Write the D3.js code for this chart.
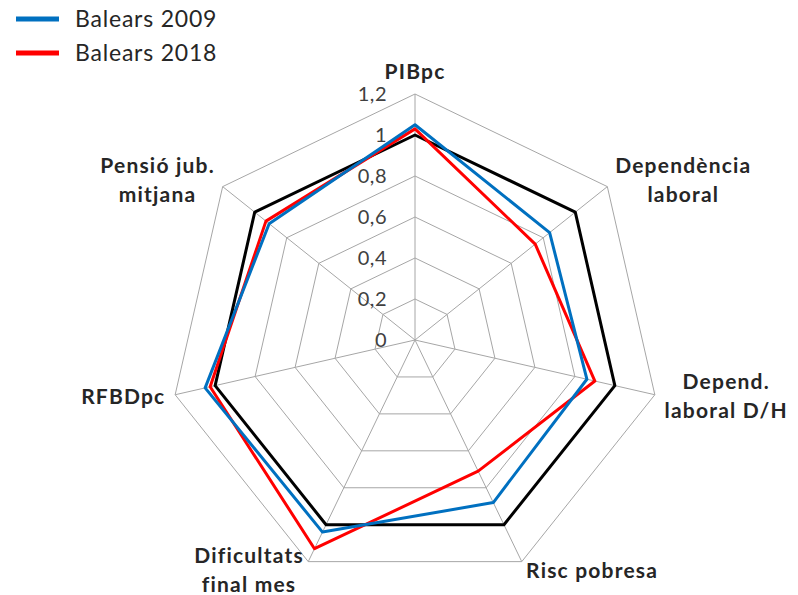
<!DOCTYPE html>
<html>
<head>
<meta charset="utf-8">
<script src="https://cdn.jsdelivr.net/npm/d3@7"></script>
<style>
    body { margin: 0; background: #fff; }
    svg { display: block; font-family: Lato, "Open Sans", sans-serif; }
    .grid { fill: none; stroke: #a6a6a6; stroke-width: 1; }
    .tick-label { font-size: 20px; fill: #404040; letter-spacing: 0.5px; }
    .cat-label { font-size: 21px; font-weight: bold; fill: #262626; letter-spacing: 1.2px; }
    .legend-text { font-size: 23px; fill: #262626; letter-spacing: 0.8px; }
</style>
</head>
<body>
<div id="chart"></div>
<script>
// axes, each label split into its lines
const categories = [
    ['PIBpc'],
    ['Dependència', 'laboral'],
    ['Depend.', 'laboral D/H'],
    ['Risc pobresa'],
    ['Dificultats', 'final mes'],
    ['RFBDpc'],
    ['Pensió jub.', 'mitjana']
];
const espanya = [1, 1, 1, 1, 1, 1, 1];
const balears2009 = [1.05, 0.84, 0.86, 0.88, 1.04, 1.05, 0.91];
const balears2018 = [1.03, 0.75, 0.90, 0.71, 1.13, 1.025, 0.93];
const tickValues = [0, 0.2, 0.4, 0.6, 0.8, 1, 1.2];

const series = [
    { name: null, values: espanya, color: '#000000' },
    { name: 'Balears 2018', values: balears2018, color: '#ff0000' },
    { name: 'Balears 2009', values: balears2009, color: '#0070c0' }
];
const legendItems = ['Balears 2009', 'Balears 2018'];

const width = 798, height = 595;
const cx = 415, cy = 340, radius = 246;

const svg = d3.select('#chart').append('svg')
    .attr('width', width)
    .attr('height', height);

const rScale = d3.scaleLinear()
    .domain([0, 1.2])
    .range([0, radius]);

const n = categories.length;
const angle = i => i * 2 * Math.PI / n;

const fmt = d3.formatLocale({ decimal: ',', thousands: '.', grouping: [3], currency: ['', '€'] }).format('.1~f');

const chart = svg.append('g')
    .attr('transform', `translate(${cx},${cy})`);

// rings
const ringLine = d3.lineRadial()
    .angle((d, i) => angle(i))
    .radius(d => rScale(d))
    .curve(d3.curveLinearClosed);

chart.selectAll('.ring')
    .data(tickValues.filter(t => t > 0))
    .join('path')
    .attr('class', 'grid ring')
    .attr('d', t => ringLine(d3.range(n).map(() => t)));

// spokes
chart.selectAll('.spoke')
    .data(categories)
    .join('line')
    .attr('class', 'grid spoke')
    .attr('x1', 0).attr('y1', 0)
    .attr('x2', (d, i) => rScale(1.2) * Math.sin(angle(i)))
    .attr('y2', (d, i) => -rScale(1.2) * Math.cos(angle(i)));

// tick labels
chart.selectAll('.tick-label')
    .data(tickValues)
    .join('text')
    .attr('class', 'tick-label')
    .attr('x', -28)
    .attr('y', d => -rScale(d))
    .attr('dy', '0.35em')
    .attr('text-anchor', 'end')
    .text(d => fmt(d));

// series
const seriesLine = d3.lineRadial()
    .angle((d, i) => angle(i))
    .radius(d => rScale(d))
    .curve(d3.curveLinearClosed);

chart.selectAll('.series')
    .data(series)
    .join('path')
    .attr('class', 'series')
    .attr('fill', 'none')
    .attr('stroke', d => d.color)
    .attr('stroke-width', 3)
    .attr('stroke-linejoin', 'round')
    .attr('d', d => seriesLine(d.values));

// category labels
const lineH = 29, pad = 10, fontSize = 21;
categories.forEach((lines, i) => {
    const a = angle(i);
    const s = Math.sin(a), c = Math.cos(a);
    const vx = rScale(1.2) * s, vy = -rScale(1.2) * c;
    const t = chart.append('text')
        .attr('class', 'cat-label')
        .attr('text-anchor', 'middle');
    lines.forEach((l, j) => t.append('tspan').attr('x', 0).attr('dy', j ? lineH : 0).text(l));
    const w = t.node().getBBox().width;
    let mx, my;
    if (Math.abs(s) < 0.1) {
        mx = vx;
        my = vy - c * (pad + 12);
    } else {
        mx = vx + s * pad + Math.sign(s) * w / 2;
        my = vy - c * pad;
    }
    const y0 = my - (lines.length - 1) * lineH / 2 + 0.33 * fontSize;
    t.attr('transform', `translate(${mx},${y0})`);
});

// legend
const legend = svg.append('g');
legendItems.forEach((name, i) => {
    const s = series.find(d => d.name === name);
    const g = legend.append('g').attr('transform', `translate(0,${19 + i * 34})`);
    g.append('line')
        .attr('x1', 16).attr('x2', 59)
        .attr('stroke', s.color)
        .attr('stroke-width', 5);
    g.append('text')
        .attr('class', 'legend-text')
        .attr('x', 75)
        .attr('dy', '0.33em')
        .text(name);
});
</script>
</body>
</html>
